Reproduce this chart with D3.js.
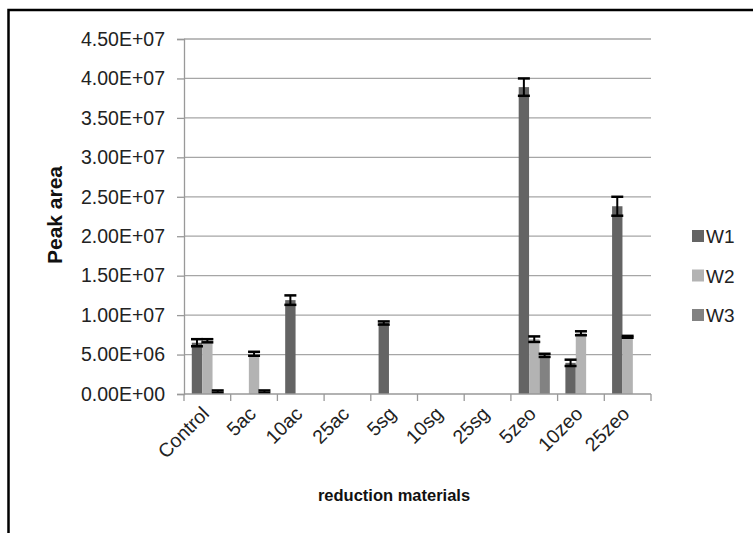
<!DOCTYPE html>
<html><head><meta charset="utf-8">
<script src="https://cdn.jsdelivr.net/npm/d3@7"></script>
<style>body{margin:0;background:#fff}</style>
</head><body>
<script>
const categories = ["Control","5ac","10ac","25ac","5sg","10sg","25sg","5zeo","10zeo","25zeo"];
const seriesNames = ["W1","W2","W3"];
const W1 = [6.5e6, 0, 1.19e7, 0, 9.0e6, 0, 0, 3.89e7, 3.95e6, 2.38e7];
const W2 = [6.75e6, 5.1e6, 0, 0, 0, 0, 0, 6.95e6, 7.7e6, 7.25e6];
const W3 = [3e5, 3e5, 0, 0, 0, 0, 0, 4.9e6, 0, 0];
const E1 = [4.5e5, 0, 6e5, 0, 2e5, 0, 0, 1.1e6, 4e5, 1.2e6];
const E2 = [2e5, 2.5e5, 0, 0, 0, 0, 0, 3.5e5, 2.5e5, 1.2e5];
const E3 = [1.5e5, 1.5e5, 0, 0, 0, 0, 0, 2e5, 0, 0];
const yTicks = [0, 5e6, 1e7, 1.5e7, 2e7, 2.5e7, 3e7, 3.5e7, 4e7, 4.5e7];
const colors = ["#646464", "#b3b3b3", "#828282"];

const values = [W1, W2, W3], errs = [E1, E2, E3];
const W = 753, H = 533;
const svg = d3.select("body").append("svg").attr("width", W).attr("height", H);

// frame (top and left visible)
svg.append("rect").attr("x", 8.5).attr("y", 10).attr("width", 800).attr("height", 600)
  .attr("fill", "none").attr("stroke", "#000").attr("stroke-width", 2.5);

const pL = 184, pR = 651, pT = 39, pB = 394;
const x = d3.scaleBand().domain(categories).range([pL, pR]).padding(0);
const y = d3.scaleLinear().domain([0, 4.5e7]).range([pB, pT]);
const bw = x.bandwidth() / 4.5;
const font = "'Liberation Sans', Arial, sans-serif";

// gridlines
svg.append("g").selectAll("line").data(yTicks.slice(1)).join("line")
  .attr("x1", pL).attr("x2", pR).attr("y1", d => y(d)).attr("y2", d => y(d))
  .attr("stroke", "#a6a6a6").attr("stroke-width", 1.3);

// y axis
const yAxis = svg.append("g").attr("transform", `translate(${pL},0)`)
  .call(d3.axisLeft(y).tickValues(yTicks).tickSize(7).tickPadding(12)
    .tickFormat(d => { const e = d3.format(".2e")(d); const [m, p] = e.split("e"); const n = Math.abs(+p); return m.toUpperCase() + "E" + (+p < 0 ? "-" : "+") + (n < 10 ? "0" : "") + n; }));
yAxis.select(".domain").attr("stroke", "#999").attr("stroke-width", 1.3);
yAxis.selectAll(".tick line").attr("stroke", "#999").attr("stroke-width", 1.3);
yAxis.selectAll("text").attr("font-family", font).attr("font-size", 19.5).attr("fill", "#222");

// bars
values.forEach((vals, si) => {
  const g = svg.append("g");
  g.selectAll("rect").data(categories.map((c, i) => ({c, v: vals[i], e: errs[si][i]})).filter(d => d.v > 0)).join("rect")
    .attr("x", d => x(d.c) + 0.75 * bw + si * bw)
    .attr("width", bw)
    .attr("y", d => y(d.v))
    .attr("height", d => y(0) - y(d.v))
    .attr("fill", colors[si]);
});

// error bars
values.forEach((vals, si) => {
  const g = svg.append("g").attr("stroke", "#000").attr("stroke-width", 2);
  categories.forEach((c, i) => {
    if (vals[i] <= 0) return;
    const cx = x(c) + 0.75 * bw + si * bw + bw / 2;
    const lo = y(Math.max(0, vals[i] - errs[si][i])), hi = y(vals[i] + errs[si][i]);
    g.append("line").attr("x1", cx).attr("x2", cx).attr("y1", lo).attr("y2", hi);
    g.append("line").attr("x1", cx - 6).attr("x2", cx + 6).attr("y1", hi).attr("y2", hi).attr("stroke-width", 2.5);
    g.append("line").attr("x1", cx - 6).attr("x2", cx + 6).attr("y1", lo).attr("y2", lo).attr("stroke-width", 2.5);
  });
});

// x axis
const xAxisG = svg.append("g").attr("transform", `translate(0,${pB})`);
xAxisG.append("line").attr("x1", pL).attr("x2", pR).attr("stroke", "#999").attr("stroke-width", 1.3);
xAxisG.selectAll(".tk").data(categories.concat(["__end"])).join("line")
  .attr("x1", (d, i) => pL + i * x.bandwidth()).attr("x2", (d, i) => pL + i * x.bandwidth())
  .attr("y1", 0).attr("y2", 7).attr("stroke", "#999").attr("stroke-width", 1.3);
xAxisG.selectAll("text").data(categories).join("text")
  .attr("transform", d => `translate(${x(d) + x.bandwidth() / 2 + 3},${21}) rotate(-45)`)
  .attr("text-anchor", "end").attr("font-family", font).attr("font-size", 19.5).attr("fill", "#222")
  .text(d => d);

// axis titles
svg.append("text").attr("transform", `translate(62,215) rotate(-90)`)
  .attr("text-anchor", "middle").attr("font-family", font).attr("font-weight", "bold")
  .attr("font-size", 21).attr("fill", "#111").text("Peak area");
svg.append("text").attr("x", 394).attr("y", 501)
  .attr("text-anchor", "middle").attr("font-family", font).attr("font-weight", "bold")
  .attr("font-size", 16.5).attr("fill", "#111").text("reduction materials");

// legend
const lg = svg.append("g").selectAll("g").data(seriesNames).join("g")
  .attr("transform", (d, i) => `translate(692,${236 + i * 39.5})`);
lg.append("rect").attr("x", 0).attr("y", -6).attr("width", 12).attr("height", 12).attr("fill", (d, i) => colors[i]);
lg.append("text").attr("x", 14).attr("y", 7).attr("font-family", font).attr("font-size", 19).attr("fill", "#222").text(d => d);
</script>
</body></html>
